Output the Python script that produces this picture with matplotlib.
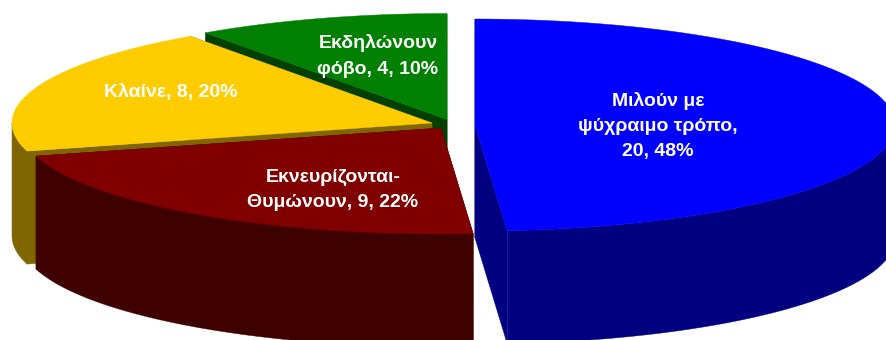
import numpy as np
import matplotlib
matplotlib.use("Agg")
import matplotlib.pyplot as plt

# Data, clockwise from 12 o'clock
categories = ["Μιλούν με\nψύχραιμο τρόπο,", "Εκνευρίζονται-\nΘυμώνουν,", "Κλαίνε,", "Εκδηλώνουν\nφόβο,"]
separators = ["\n", " ", " ", " "]
counts = [20, 9, 8, 4]
percents = [48, 22, 20, 10]
top_colors = ["#0000FF", "#800000", "#FFCC00", "#008000"]
side_colors = ["#000080", "#3F0000", "#7F6600", "#004000"]

# Pie geometry in pixels
rx = 420
ry = 106
depth = 113
centers = [(475, 125), (441, 128), (432, 123), (447, 119.5)]
label_pos = [(658, 126), (333, 190), (171, 92), (378, 56)]

fig = plt.figure(figsize=(8.87, 3.4), dpi=100)
ax = fig.add_axes([0, 0, 1, 1])
ax.set_xlim(0, 887)
ax.set_ylim(340, 0)
ax.axis("off")


def ring(cx, cy, angles):
    # angles run clockwise from the top of the ellipse
    return cx + rx * np.sin(angles), cy - ry * np.cos(angles)


def face(xs, ys, color, z):
    ax.fill(xs, ys, facecolor=color, edgecolor=color, linewidth=0.3, zorder=z)


edges = 2 * np.pi * np.concatenate([[0], np.cumsum(counts)]) / sum(counts)
# paint back to front: green, yellow, red, blue
for i in [3, 2, 1, 0]:
    cx, cy = centers[i]
    start, end = edges[i], edges[i + 1]
    z = (3 - i) * 10

    # flat cut faces
    for a in (start, end):
        ex, ey = ring(cx, cy, a)
        face([cx, ex, ex, cx], [cy, ey, ey + depth, cy + depth], side_colors[i], z)

    # outer wall, only the part that faces the viewer
    lo, hi = max(start, np.pi / 2), min(end, 3 * np.pi / 2)
    if hi > lo:
        t = np.linspace(lo, hi, 200)
        wx, wy = ring(cx, cy, t)
        face(np.r_[wx, wx[::-1]], np.r_[wy, wy[::-1] + depth], side_colors[i], z + 1)

    # top surface
    t = np.linspace(start, end, 300)
    tx, ty = ring(cx, cy, t)
    face(np.r_[cx, tx], np.r_[cy, ty], top_colors[i], z + 2)

    txt = f"{categories[i]}{separators[i]}{counts[i]}, {percents[i]}%"
    ax.text(label_pos[i][0], label_pos[i][1], txt, color="white", ha="center", va="center",
            fontsize=14, fontweight="bold", family="Liberation Sans", linespacing=1.65, zorder=100)

# thin lighter seam on the blue slice
sx, sy = ring(*centers[0], edges[1])
ax.plot([sx, sx], [sy, sy + depth], color="#20209A", linewidth=0.6, zorder=50)

fig.savefig("out.png", dpi=100)
